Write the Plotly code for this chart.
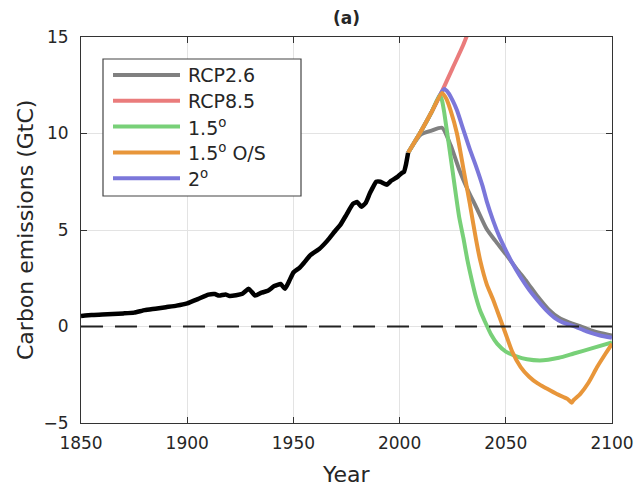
import plotly.graph_objects as go

# ---------------- data ----------------
hist_years = [1850, 1855, 1860, 1865, 1870, 1875, 1880, 1885, 1890, 1895, 1900, 1905,
              1910, 1913, 1915, 1918, 1920, 1923, 1926, 1929, 1932, 1935, 1938, 1941,
              1944, 1946, 1948, 1950, 1953, 1955, 1958, 1962, 1966, 1970, 1972, 1975,
              1978, 1980, 1982, 1984, 1986, 1989, 1991, 1994, 1996, 1999, 2001, 2002,
              2003, 2004]
hist_vals = [0.55, 0.6, 0.62, 0.65, 0.68, 0.72, 0.85, 0.92, 1.0, 1.08, 1.2, 1.42,
             1.65, 1.68, 1.6, 1.66, 1.58, 1.62, 1.7, 1.95, 1.6, 1.75, 1.85, 2.1,
             2.2, 1.95, 2.35, 2.8, 3.05, 3.3, 3.7, 4.0, 4.45, 5.0, 5.25, 5.8,
             6.35, 6.45, 6.2, 6.4, 6.9, 7.5, 7.5, 7.35, 7.55, 7.75, 7.95, 8.0,
             8.4, 9.0]

rcp26_years = [2004, 2010, 2015, 2020, 2024, 2028, 2032, 2036, 2041, 2045, 2050, 2055,
               2060, 2065, 2070, 2075, 2080, 2085, 2090, 2095, 2100]
rcp26_vals = [9.0, 9.95, 10.15, 10.3, 9.4, 8.15, 7.1, 6.2, 5.05, 4.45, 3.75, 3.0,
              2.3, 1.55, 0.9, 0.45, 0.2, 0.02, -0.2, -0.35, -0.47]

rcp85_years = [2004, 2010, 2015, 2020, 2025, 2030, 2035, 2040]
rcp85_vals = [9.0, 10.1, 11.1, 12.2, 13.4, 14.6, 16.0, 17.3]

p15_years = [2004, 2010, 2015, 2019, 2020, 2021, 2024, 2028, 2030, 2032, 2034, 2036,
             2038, 2040, 2043, 2046, 2050, 2055, 2060, 2066, 2070, 2075, 2082, 2090, 2100]
p15_vals = [9.0, 10.1, 11.1, 12.0, 11.7, 11.1, 8.8, 5.7, 4.6, 3.4, 2.4, 1.5,
            0.8, 0.3, -0.4, -0.9, -1.3, -1.55, -1.7, -1.76, -1.72, -1.62, -1.4, -1.15, -0.82]

p15os_years = [2004, 2010, 2015, 2020, 2022, 2024, 2027, 2030, 2033, 2036, 2038, 2041,
               2044, 2046, 2050, 2053, 2057, 2061, 2065, 2069, 2074, 2079, 2081, 2082,
               2085, 2089, 2093, 2097, 2100]
p15os_vals = [9.0, 10.1, 11.1, 12.1, 11.8, 11.2, 10.0, 8.2, 6.4, 4.5, 3.4, 2.2,
              1.4, 0.8, -0.4, -1.3, -2.1, -2.6, -2.95, -3.2, -3.5, -3.75, -3.95, -3.8,
              -3.5, -2.9, -2.1, -1.4, -0.9]

p2_years = [2004, 2010, 2015, 2019, 2021, 2023, 2025, 2027, 2030, 2033, 2036, 2039,
            2041, 2044, 2047, 2050, 2053, 2057, 2061, 2065, 2069, 2073, 2077, 2082,
            2088, 2094, 2100]
p2_vals = [9.0, 10.1, 11.1, 12.0, 12.3, 12.1, 11.7, 11.2, 10.2, 9.2, 8.3, 7.3,
           6.5, 5.5, 4.65, 3.95, 3.3, 2.55, 1.9, 1.35, 0.85, 0.45, 0.2, 0.02,
           -0.25, -0.45, -0.58]

series_names = ["RCP2.6", "RCP8.5", "1.5<sup>o</sup>", "1.5<sup>o</sup> O/S", "2<sup>o</sup>"]
series_colors = ["#808080", "#EA7C7C", "#78D078", "#E8963A", "#7B77DA"]

x_ticks = [1850, 1900, 1950, 2000, 2050, 2100]
y_ticks = [-5, 0, 5, 10, 15]

FONT = "DejaVu Sans"
TXT = "#262626"

fig = go.Figure()

# draw order: RCP2.6, RCP8.5, 2°, 1.5°, 1.5° O/S (orange on top of shared path)
draw = [(0, rcp26_years, rcp26_vals), (1, rcp85_years, rcp85_vals),
        (4, p2_years, p2_vals), (2, p15_years, p15_vals), (3, p15os_years, p15os_vals)]
for k, xs, ys in draw:
    fig.add_trace(go.Scatter(x=xs, y=ys, mode="lines", name=series_names[k],
                             line=dict(color=series_colors[k], width=4, shape="spline", smoothing=0.6),
                             showlegend=False, hoverinfo="skip"))

fig.add_trace(go.Scatter(x=hist_years, y=hist_vals, mode="lines", name="Historical",
                         line=dict(color="black", width=4.5, shape="spline", smoothing=0.4),
                         showlegend=False))

# zero reference line
fig.add_shape(type="line", xref="paper", yref="y", x0=0, x1=1, y0=0, y1=0,
              line=dict(color="#222", width=2, dash="22px,12px"), layer="above")

# ---- manual legend ----
PL, PT, PW, PH = 81, 37, 531, 386
def px(x):
    return (x - PL) / PW
def py(y):
    return (PT + PH - y) / PH

fig.add_shape(type="rect", xref="paper", yref="paper", x0=px(103), x1=px(301),
              y0=py(196), y1=py(59), line=dict(color="#444", width=1.2),
              fillcolor="white", layer="above")
for i, (nm, col) in enumerate(zip(series_names, series_colors)):
    yy = 75 + i * 25.8
    fig.add_shape(type="line", xref="paper", yref="paper", x0=px(113), x1=px(180),
                  y0=py(yy), y1=py(yy), line=dict(color=col, width=4), layer="above")
    fig.add_annotation(x=px(186), y=py(yy), xref="paper", yref="paper", text=nm,
                       showarrow=False, xanchor="left", yanchor="middle",
                       font=dict(family=FONT, size=19, color=TXT))

# axis titles & panel title
fig.add_annotation(x=px(25), y=0.5, xref="paper", yref="paper",
                   text="Carbon emissions (GtC)", textangle=-90, showarrow=False,
                   xanchor="center", yanchor="middle",
                   font=dict(family=FONT, size=22, color=TXT))
fig.add_annotation(x=0.5, y=py(474), xref="paper", yref="paper", text="Year",
                   showarrow=False, xanchor="center", yanchor="middle",
                   font=dict(family=FONT, size=22, color=TXT))
fig.add_annotation(x=0.5, y=py(18), xref="paper", yref="paper", text="<b>(a)</b>",
                   showarrow=False, xanchor="center", yanchor="middle",
                   font=dict(family=FONT, size=17, color=TXT))

axis_common = dict(showline=True, linecolor="#333", linewidth=1, mirror="ticks",
                   ticks="inside", ticklen=6, tickcolor="#333", tickwidth=1,
                   showgrid=True, gridcolor="#E3E3E3", gridwidth=1, zeroline=False,
                   automargin=False,
                   tickfont=dict(family=FONT, size=17, color=TXT))

fig.update_layout(
    width=638, height=488,
    margin=dict(l=PL, r=638 - PL - PW, t=PT, b=488 - PT - PH, autoexpand=False),
    paper_bgcolor="white", plot_bgcolor="white",
    xaxis=dict(range=[1850, 2100], tickvals=x_ticks, ticklabelstandoff=5, **axis_common),
    yaxis=dict(range=[-5, 15], tickvals=y_ticks, ticklabelstandoff=8, **axis_common),
)

fig.write_html("out.html", config={"displayModeBar": False},
               post_script="document.body.style.margin='0';document.body.style.overflow='hidden';")
